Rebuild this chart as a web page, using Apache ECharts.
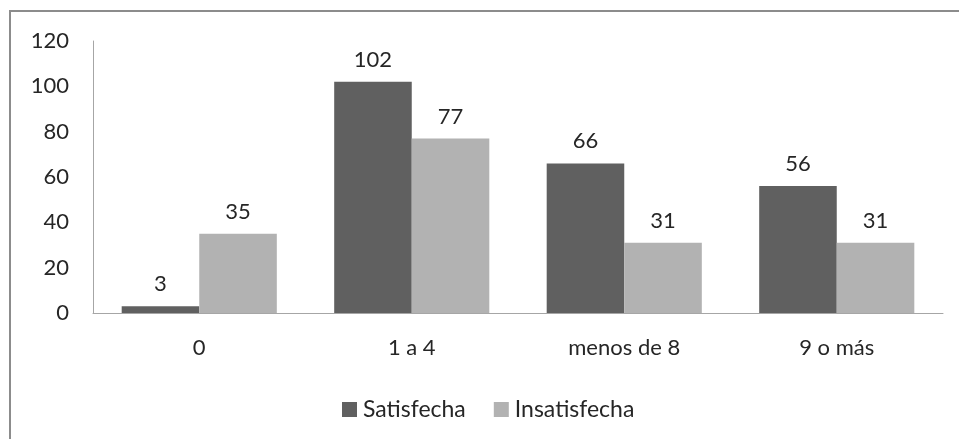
<!DOCTYPE html>
<html>
<head>
<meta charset="utf-8">
<script src="https://cdn.jsdelivr.net/npm/echarts@6/dist/echarts.min.js"></script>
<style>html,body{margin:0;padding:0;background:#fff}#c{width:959px;height:439px}</style>
</head>
<body>
<div id="c"></div>
<script>
var categories = ['0', '1 a 4', 'menos de 8', '9 o más'];
var satisfecha = [3, 102, 66, 56];
var insatisfecha = [35, 77, 31, 31];
var seriesNames = ['Satisfecha', 'Insatisfecha'];

var FONT = 'Lato';
var FS = 22;
var TXT = '#262626';
var chart = echarts.init(document.getElementById('c'), null, {renderer: 'canvas'});
chart.setOption({
  animation: false,
  backgroundColor: '#fff',
  textStyle: {fontFamily: FONT},
  graphic: [{
    type: 'rect',
    shape: {x: 10, y: 11, width: 1000, height: 1000},
    style: {fill: 'none', stroke: '#8c8c8c', lineWidth: 2},
    silent: true
  }],
  grid: {left: 93, right: 16, top: 41, bottom: 126, containLabel: false},
  legend: {
    left: 337, top: 393,
    itemWidth: 15, itemHeight: 15, itemGap: 28,
    icon: 'rect',
    textStyle: {fontFamily: FONT, fontSize: 23, color: TXT, padding: [0, 0, 0, 1]},
    data: seriesNames
  },
  xAxis: {
    type: 'category', data: categories,
    axisLine: {lineStyle: {color: '#a6a6a6', width: 1}},
    axisTick: {show: false},
    axisLabel: {fontFamily: FONT, fontSize: FS, color: TXT, margin: 24}
  },
  yAxis: {
    type: 'value', min: 0, max: 120, interval: 20,
    axisLine: {show: true, lineStyle: {color: '#a6a6a6', width: 1}},
    axisTick: {show: false},
    splitLine: {show: false},
    axisLabel: {fontFamily: FONT, fontSize: FS, color: TXT, margin: 24}
  },
  series: [{
    name: seriesNames[0], type: 'bar', data: satisfecha,
    barGap: '0%', barCategoryGap: '27%',
    itemStyle: {color: '#606060'},
    label: {show: true, position: 'top', distance: 11, fontFamily: FONT, fontSize: FS, color: TXT}
  }, {
    name: seriesNames[1], type: 'bar', data: insatisfecha,
    barGap: '0%', barCategoryGap: '27%',
    itemStyle: {color: '#b2b2b2'},
    label: {show: true, position: 'top', distance: 11, fontFamily: FONT, fontSize: FS, color: TXT}
  }]
});
</script>
</body>
</html>
